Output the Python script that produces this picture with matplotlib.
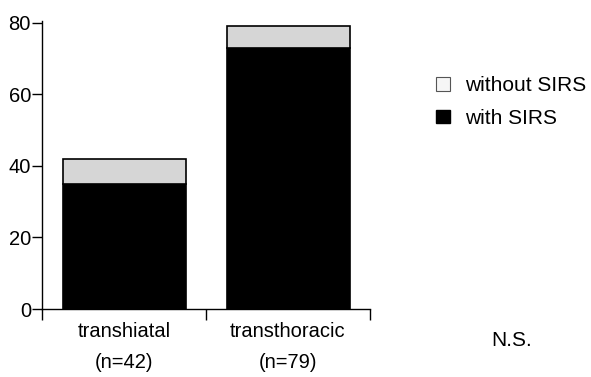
import matplotlib
matplotlib.use("Agg")
import matplotlib.pyplot as plt
from matplotlib.patches import Patch

plt.rcParams['font.family'] = ['Liberation Sans', 'DejaVu Sans']

categories = ["transhiatal", "transthoracic"]
n_labels = ["(n=42)", "(n=79)"]
with_sirs = [35, 73]
without_sirs = [7, 6]
yticks = [0, 20, 40, 60, 80]

fig = plt.figure(figsize=(5.91, 3.77), dpi=100)
ax = fig.add_axes([0.0711, 0.180, 0.555, 0.765])

x = list(range(len(categories)))
ax.bar(x, with_sirs, width=0.75, color='black', edgecolor='black', linewidth=1.2)
ax.bar(x, without_sirs, bottom=with_sirs, width=0.75, color='#d6d6d6',
       edgecolor='black', linewidth=1.2)

ax.set_xlim(-0.5, 1.5)
ax.set_ylim(0, 80.5)
ax.set_yticks(yticks)
ax.set_yticklabels([str(v) for v in yticks], fontsize=14.5)
ax.set_xticks([-0.5, 0.5, 1.5])
ax.set_xticklabels([])
ax.set_xticks(x, minor=True)
ax.set_xticklabels([f"{c}\n{n}" for c, n in zip(categories, n_labels)],
                   minor=True, fontsize=14.5, linespacing=1.8)
ax.tick_params(axis='x', which='minor', length=0, pad=9)
ax.tick_params(axis='x', which='major', length=8, width=1, direction='out')
ax.tick_params(axis='y', length=7, width=1, pad=1, direction='out')

for s in ['top', 'right']:
    ax.spines[s].set_visible(False)
for s in ['left', 'bottom']:
    ax.spines[s].set_linewidth(1)

handles = [Patch(facecolor='#f6f6f6', edgecolor='#555555', linewidth=0.8, label='without SIRS'),
           Patch(facecolor='black', edgecolor='black', label='with SIRS')]
fig.legend(handles=handles, loc='center left', bbox_to_anchor=(436 / 591, 1 - 102 / 377),
           frameon=False, fontsize=15, handlelength=0.65, handleheight=0.65,
           handletextpad=0.75, labelspacing=0.65, borderpad=0, borderaxespad=0)

fig.text(491 / 591, 1 - 340 / 377, "N.S.", fontsize=15, ha='left', va='center')

fig.savefig("out.png", dpi=100)
